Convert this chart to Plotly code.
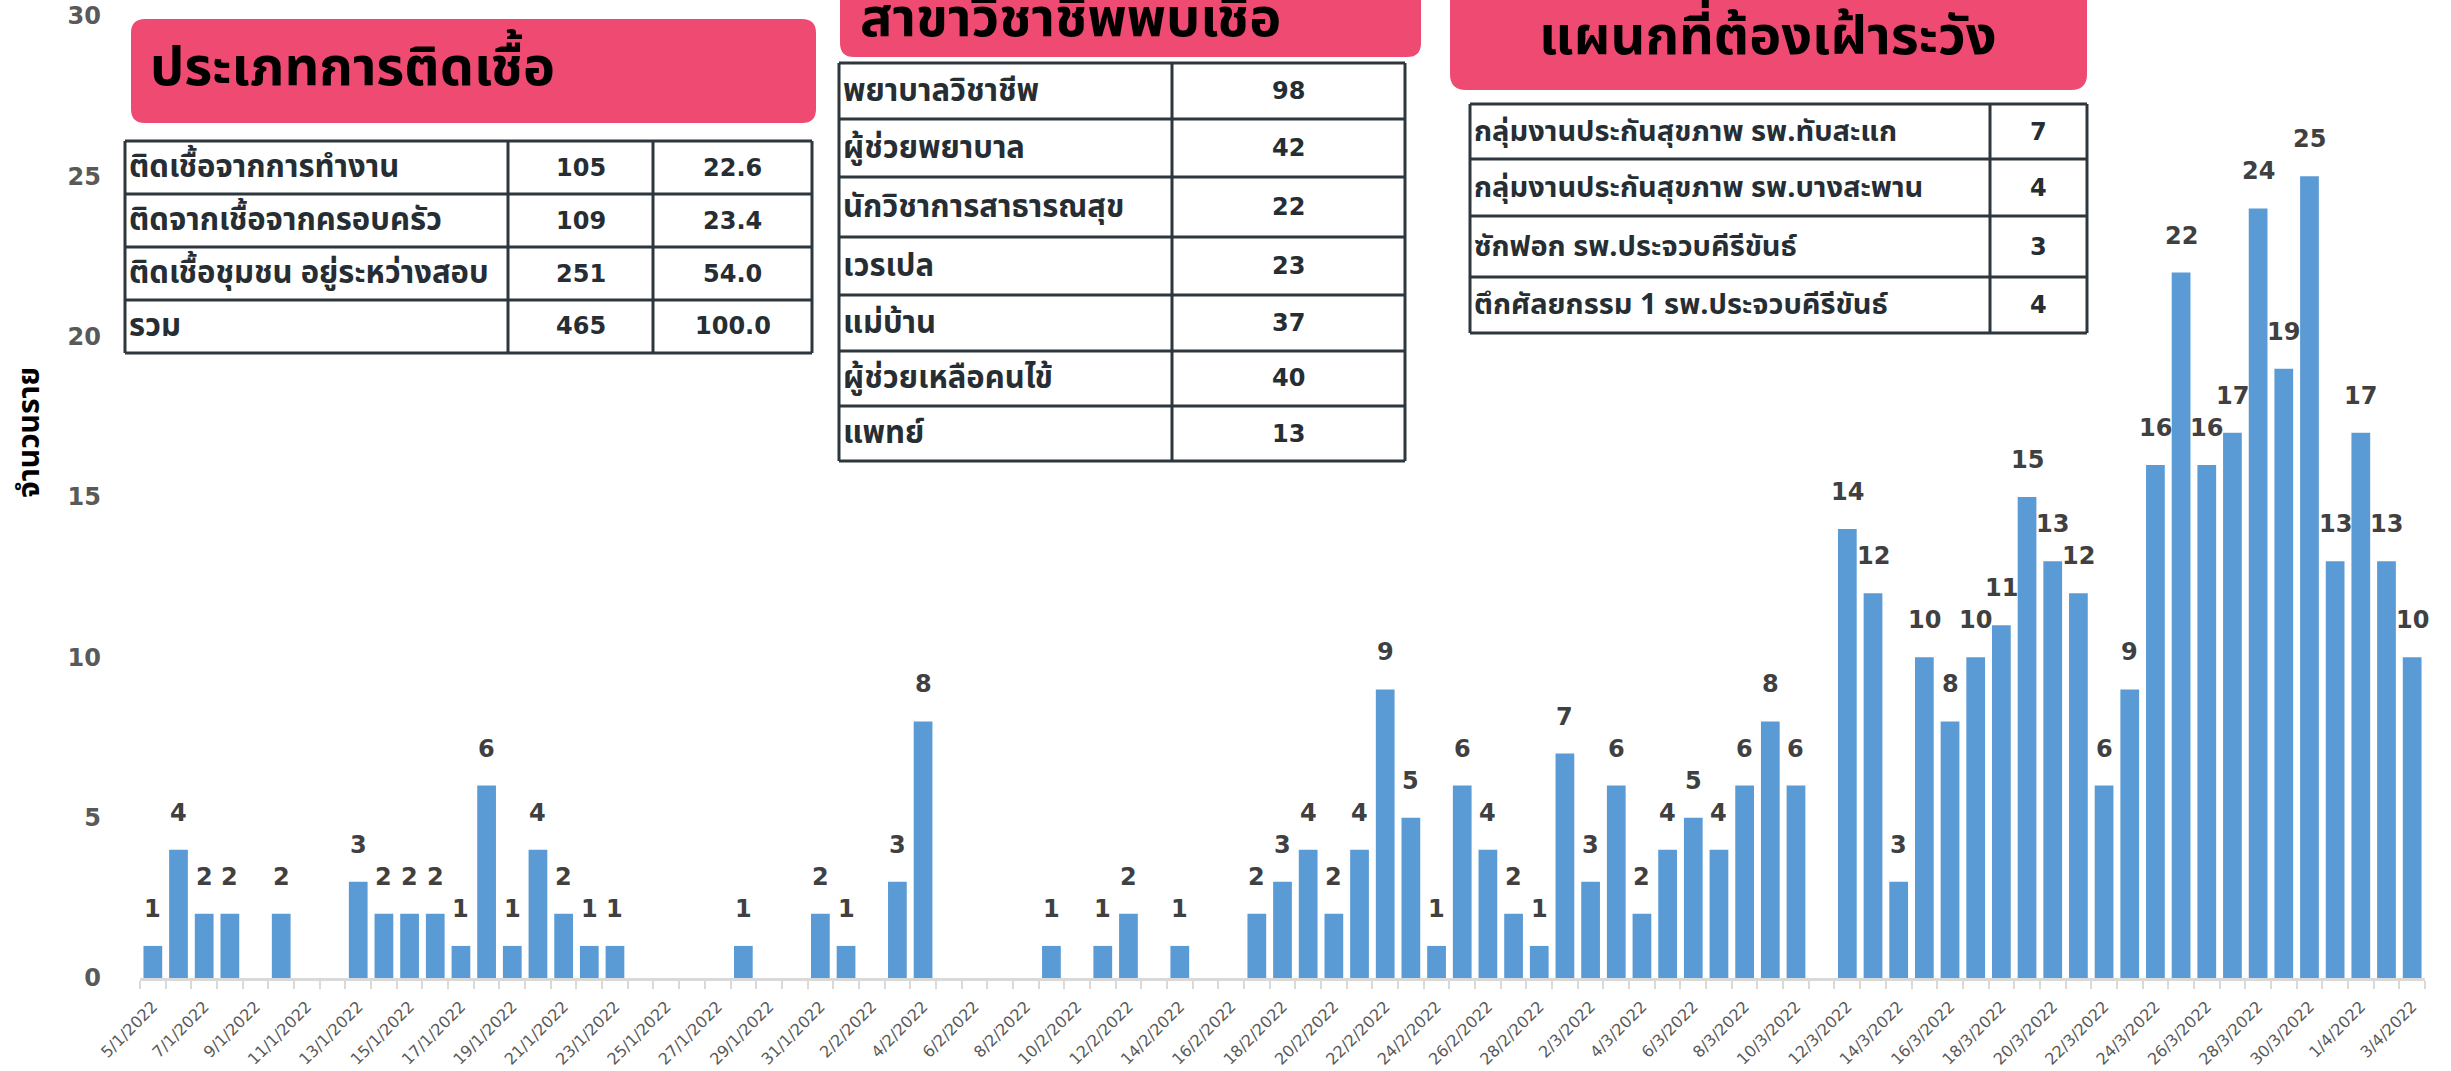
import plotly.graph_objects as go

# ---------------- data ----------------
dates = (
    [f"{d}/1/2022" for d in range(5, 32)]
    + [f"{d}/2/2022" for d in range(1, 29)]
    + [f"{d}/3/2022" for d in range(1, 32)]
    + [f"{d}/4/2022" for d in range(1, 4)]
)
cases_jan = [1, 4, 2, 2, 0, 2, 0, 0, 3, 2, 2, 2, 1, 6, 1, 4, 2, 1, 1, 0, 0, 0, 0, 1, 0, 0, 2]
cases_feb = [1, 0, 3, 8, 0, 0, 0, 0, 1, 0, 1, 2, 0, 1, 0, 0, 2, 3, 4, 2, 4, 9, 5, 1, 6, 4, 2, 1]
cases_mar = [7, 3, 6, 2, 4, 5, 4, 6, 8, 6, 0, 14, 12, 3, 10, 8, 10, 11, 15, 13, 12, 6, 9, 16, 22,
             16, 17, 24, 19, 25, 13]
cases_apr = [17, 13, 10]
cases = cases_jan + cases_feb + cases_mar + cases_apr

y_title = "จำนวนราย"

t1_title = "ประเภทการติดเชื้อ"
t1_labels = ["ติดเชื้อจากการทำงาน", "ติดจากเชื้อจากครอบครัว", "ติดเชื้อชุมชน อยู่ระหว่างสอบ", "รวม"]
t1_counts = ["105", "109", "251", "465"]
t1_pct = ["22.6", "23.4", "54.0", "100.0"]

t2_title = "สาขาวิชาชีพพบเชื้อ"
t2_labels = ["พยาบาลวิชาชีพ", "ผู้ช่วยพยาบาล", "นักวิชาการสาธารณสุข", "เวรเปล", "แม่บ้าน",
             "ผู้ช่วยเหลือคนไข้", "แพทย์"]
t2_counts = ["98", "42", "22", "23", "37", "40", "13"]

t3_title = "แผนกที่ต้องเฝ้าระวัง"
t3_labels = ["กลุ่มงานประกันสุขภาพ รพ.ทับสะแก", "กลุ่มงานประกันสุขภาพ รพ.บางสะพาน",
             "ซักฟอก รพ.ประจวบคีรีขันธ์", "ตึกศัลยกรรม 1 รพ.ประจวบคีรีขันธ์"]
t3_counts = ["7", "4", "3", "4"]

# ---------------- geometry helpers ----------------
W, H = 2451, 1071
ML, MR, MT, MB = 140, 26, 16, 93
PW, PH = W - ML - MR, H - MT - MB


def px(x):
    return (x - ML) / PW


def py(y):
    return (H - MB - y) / PH


PINK = "#EF4A72"
BORDER = "#2D373D"
TXT = "#262E34"
THAI = "Noto Sans Thai, Loma, Garuda, Tahoma, DejaVu Sans, sans-serif"
NUM = "DejaVu Sans, Arial, sans-serif"

shapes = []
annotations = []


def rrect(x0, y0, x1, y1, r, color):
    X0, X1, Yt, Yb = px(x0), px(x1), py(y0), py(y1)
    rx, ry = r / PW, r / PH
    path = (f"M {X0+rx},{Yt} L {X1-rx},{Yt} Q {X1},{Yt} {X1},{Yt-ry} "
            f"L {X1},{Yb+ry} Q {X1},{Yb} {X1-rx},{Yb} L {X0+rx},{Yb} "
            f"Q {X0},{Yb} {X0},{Yb+ry} L {X0},{Yt-ry} Q {X0},{Yt} {X0+rx},{Yt} Z")
    shapes.append(dict(type="path", xref="paper", yref="paper", path=path,
                       fillcolor=color, line=dict(width=0), layer="above"))


def line(x0, y0, x1, y1):
    shapes.append(dict(type="line", xref="paper", yref="paper",
                       x0=px(x0), y0=py(y0), x1=px(x1), y1=py(y1),
                       line=dict(color=BORDER, width=3), layer="above"))


def text(x, y, s, size, family, anchor="left", color=TXT):
    annotations.append(dict(xref="paper", yref="paper", x=px(x), y=py(y), text=s,
                            showarrow=False, xanchor=anchor, yanchor="middle",
                            font=dict(size=size, family=family, color=color, weight="bold")))


def table(xcols, yrows, columns, aligns, fonts):
    for xc in xcols:
        line(xc, yrows[0], xc, yrows[-1])
    for yr in yrows:
        line(xcols[0], yr, xcols[-1], yr)
    for ci, col in enumerate(columns):
        for ri, val in enumerate(col):
            yc = (yrows[ri] + yrows[ri + 1]) / 2
            if aligns[ci] == "left":
                text(xcols[ci] + 2, yc, val, fonts[ci][0], fonts[ci][1], "left")
            else:
                text((xcols[ci] + xcols[ci + 1]) / 2, yc, val, fonts[ci][0], fonts[ci][1], "center")


# table 1
rrect(131, 19, 816, 123, 14, PINK)
text(148, 68, t1_title, 54, THAI, "left", "#000000")
table([125, 508, 653, 812], [141, 194, 247, 300, 353],
      [t1_labels, t1_counts, t1_pct], ["left", "center", "center"],
      [(31, THAI), (24, NUM), (24, NUM)])

# table 2
rrect(840, -40, 1421, 57, 14, PINK)
text(858, 19, t2_title, 54, THAI, "left", "#000000")
table([839, 1172, 1405], [63, 119, 177, 237, 295, 351, 406, 461],
      [t2_labels, t2_counts], ["left", "center"],
      [(31, THAI), (24, NUM)])

# table 3
rrect(1450, -30, 2087, 90, 16, PINK)
text(1768, 38, t3_title, 54, THAI, "center", "#000000")
table([1470, 1990, 2087], [104, 159, 216, 277, 333],
      [t3_labels, t3_counts], ["left", "center"],
      [(29, THAI), (24, NUM)])

# y axis title
annotations.append(dict(xref="paper", yref="paper", x=px(30), y=py(433), text=y_title,
                        textangle=-90, showarrow=False, xanchor="center", yanchor="middle",
                        font=dict(size=30, family=THAI, color="#000000", weight="bold")))

# data labels
xs = list(range(len(dates)))
for i, v in zip(xs, cases):
    if v:
        annotations.append(dict(x=i, y=v, xref="x", yref="y", text=str(v), showarrow=False,
                                xanchor="center", yanchor="bottom", yshift=21,
                                font=dict(size=24, family=NUM, color="#404040", weight="bold")))

fig = go.Figure(go.Bar(
    x=xs, y=cases, width=0.73,
    marker=dict(color="#5B9BD5", line=dict(width=0)),
    hoverinfo="skip",
))

fig.update_layout(
    width=W, height=H,
    margin=dict(l=ML, r=MR, t=MT, b=MB, autoexpand=False),
    plot_bgcolor="white", paper_bgcolor="white",
    showlegend=False,
    shapes=shapes, annotations=annotations,
    xaxis=dict(
        range=[-0.5, len(dates) - 0.5], automargin=False,
        tickmode="array", tickvals=xs[::2], ticktext=dates[::2],
        tickangle=-45, ticks="",
        tickfont=dict(size=16, family=NUM, color="#595959"),
        ticklabelstandoff=10,
        showline=True, linecolor="#D9D9D9", linewidth=3,
        showgrid=False, zeroline=False,
        minor=dict(tick0=-0.5, dtick=1, ticks="outside", ticklen=8,
                   tickcolor="#D9D9D9", tickwidth=2, showgrid=False),
    ),
    yaxis=dict(
        range=[0, 30], dtick=5, tick0=0, automargin=False,
        showgrid=False, zeroline=False, showline=False, ticks="",
        tickfont=dict(size=24, family=NUM, color="#595959", weight="bold"),
        ticklabelstandoff=38,
    ),
)

fig.write_html("out.html", config={"displayModeBar": False},
               post_script="document.body.style.margin='0';")
